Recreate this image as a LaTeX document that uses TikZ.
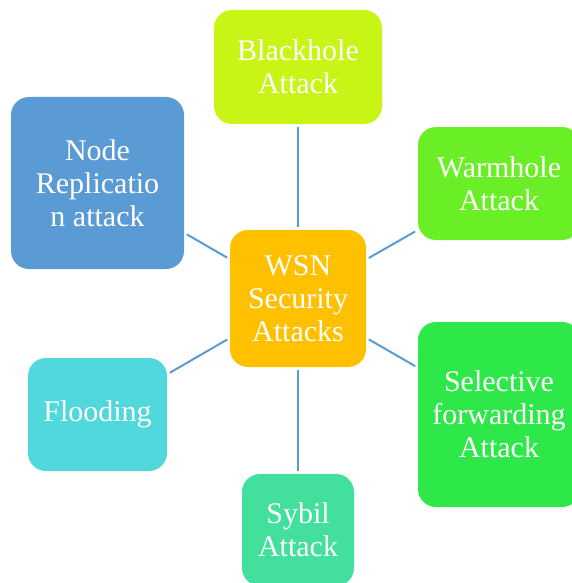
\documentclass[tikz,border=0pt]{standalone}
\usepackage{fontspec}
\setmainfont{Liberation Serif}
\definecolor{wsnorange}{HTML}{FFC000}
\definecolor{blackholegreen}{HTML}{C8F515}
\definecolor{warmholegreen}{HTML}{6AEE25}
\definecolor{selectivegreen}{HTML}{2EE84A}
\definecolor{sybilgreen}{HTML}{42E09C}
\definecolor{floodingcyan}{HTML}{50D8DC}
\definecolor{replicationblue}{HTML}{5B9BD5}
\definecolor{linkblue}{HTML}{5B9BD5}
\begin{document}
\begin{tikzpicture}[x=1pt, y=-1pt,
    attack/.style={rounded corners=18pt, text=white, align=center, inner sep=0pt,
      font=\fontsize{30}{33}\selectfont},
    link/.style={draw=linkblue, line width=2pt, shorten >=3pt, shorten <=3pt}]
    \clip (0,0) rectangle (572,583);
    \node[attack, fill=wsnorange, minimum width=136pt, minimum height=137pt] (wsn) at (298,298.5) {WSN\\Security\\Attacks};
    \node[attack, fill=blackholegreen, minimum width=168pt, minimum height=114pt] (blackhole) at (298,67) {Blackhole\\Attack};
    \node[attack, fill=warmholegreen, minimum width=162pt, minimum height=113pt] (warmhole) at (499,183.5) {Warmhole\\Attack};
    \node[attack, fill=selectivegreen, minimum width=162pt, minimum height=185pt] (selective) at (499,414.5) {Selective\\forwarding\\Attack};
    \node[attack, fill=sybilgreen, minimum width=112pt, minimum height=112pt] (sybil) at (298,530) {Sybil\\Attack};
    \node[attack, fill=floodingcyan, minimum width=139pt, minimum height=113pt] (flooding) at (97.5,414.5) {Flooding};
    \node[attack, fill=replicationblue, minimum width=173pt, minimum height=172pt] (replication) at (97.5,183) {Node\\Replicatio\\n attack};
    % links from the centre
    \foreach \target in {blackhole, warmhole, selective, sybil, flooding, replication}
      \draw[link] (wsn) -- (\target);
\end{tikzpicture}
\end{document}
